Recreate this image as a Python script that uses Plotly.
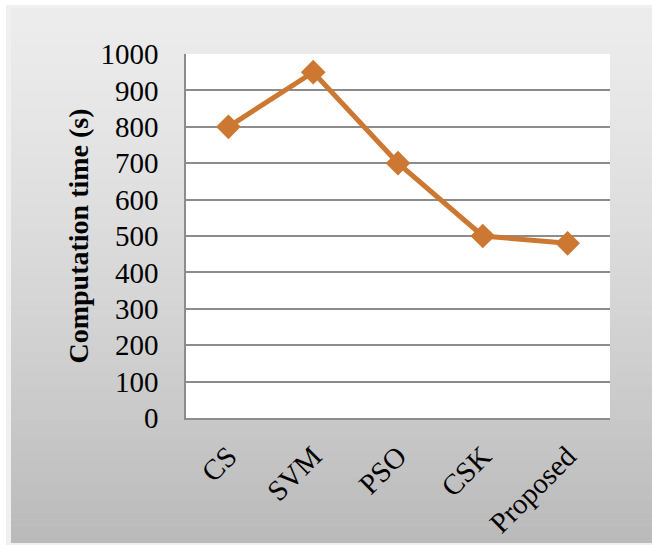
import plotly.graph_objects as go

# Computation time per method
methods = ["CS", "SVM", "PSO", "CSK", "Proposed"]
comp_time = [800, 950, 700, 500, 480]

y_ticks = [0, 100, 200, 300, 400, 500, 600, 700, 800, 900, 1000]

W, H = 652, 545
PL, PR, PT, PB = 186, 610, 54, 418  # plot area in pixels


def px_x(p):
    return (p - PL) / (PR - PL)


def px_y(p):
    return (PB - p) / (PB - PT)


line_color = "#cc7833"
font_family = "Liberation Serif, Times New Roman, serif"

shapes = []

# soft shadow on the chart frame
shapes.append(dict(type="rect", xref="paper", yref="paper", layer="below",
                   x0=px_x(6), x1=px_x(652), y0=px_y(545), y1=px_y(5),
                   fillcolor="rgba(0,0,0,0.06)", line=dict(width=0)))

# vertical gradient for the chart area
top, bottom = 8, 543
n = 90
for i in range(n):
    t = i / (n - 1)
    c = int(round(236 - 50 * t ** 1.3))
    y0 = top + (bottom - top) * i / n
    y1 = top + (bottom - top) * (i + 1) / n + 0.6
    shapes.append(dict(type="rect", xref="paper", yref="paper", layer="below",
                       x0=px_x(11), x1=px_x(652), y0=px_y(min(y1, bottom)), y1=px_y(y0),
                       fillcolor=f"rgb({c},{c},{c})", line=dict(width=0)))

# white plot area
shapes.append(dict(type="rect", xref="paper", yref="paper", layer="below",
                   x0=0, x1=1, y0=0, y1=1, fillcolor="white", line=dict(width=0)))

fig = go.Figure()
fig.add_trace(go.Scatter(
    x=methods, y=comp_time, mode="lines+markers",
    line=dict(color=line_color, width=5),
    marker=dict(symbol="diamond", size=19, color=line_color),
    showlegend=False, hoverinfo="skip",
))

fig.update_layout(
    width=W, height=H,
    margin=dict(l=PL, r=W - PR, t=PT, b=H - PB),
    paper_bgcolor="white",
    plot_bgcolor="white",
    shapes=shapes,
    font=dict(family=font_family, size=29, color="black"),
    xaxis=dict(
        type="category", tickangle=-45, automargin=False,
        showgrid=False, showline=True, linecolor="#8c8c8c", linewidth=1.5,
        ticks="", tickfont=dict(size=29), ticklabelstandoff=8,
        range=[-0.5, 4.5],
    ),
    yaxis=dict(
        range=[0, 1000], tickvals=y_ticks, automargin=False,
        showgrid=True, gridcolor="#8c8c8c", gridwidth=1.5,
        showline=True, linecolor="#8c8c8c", linewidth=1.5,
        ticks="", tickfont=dict(size=29), ticklabelstandoff=20,
        zeroline=False,
        title=dict(text="<b>Computation time (s)</b>", font=dict(size=28), standoff=4),
    ),
)

fig.write_html("out.html")
